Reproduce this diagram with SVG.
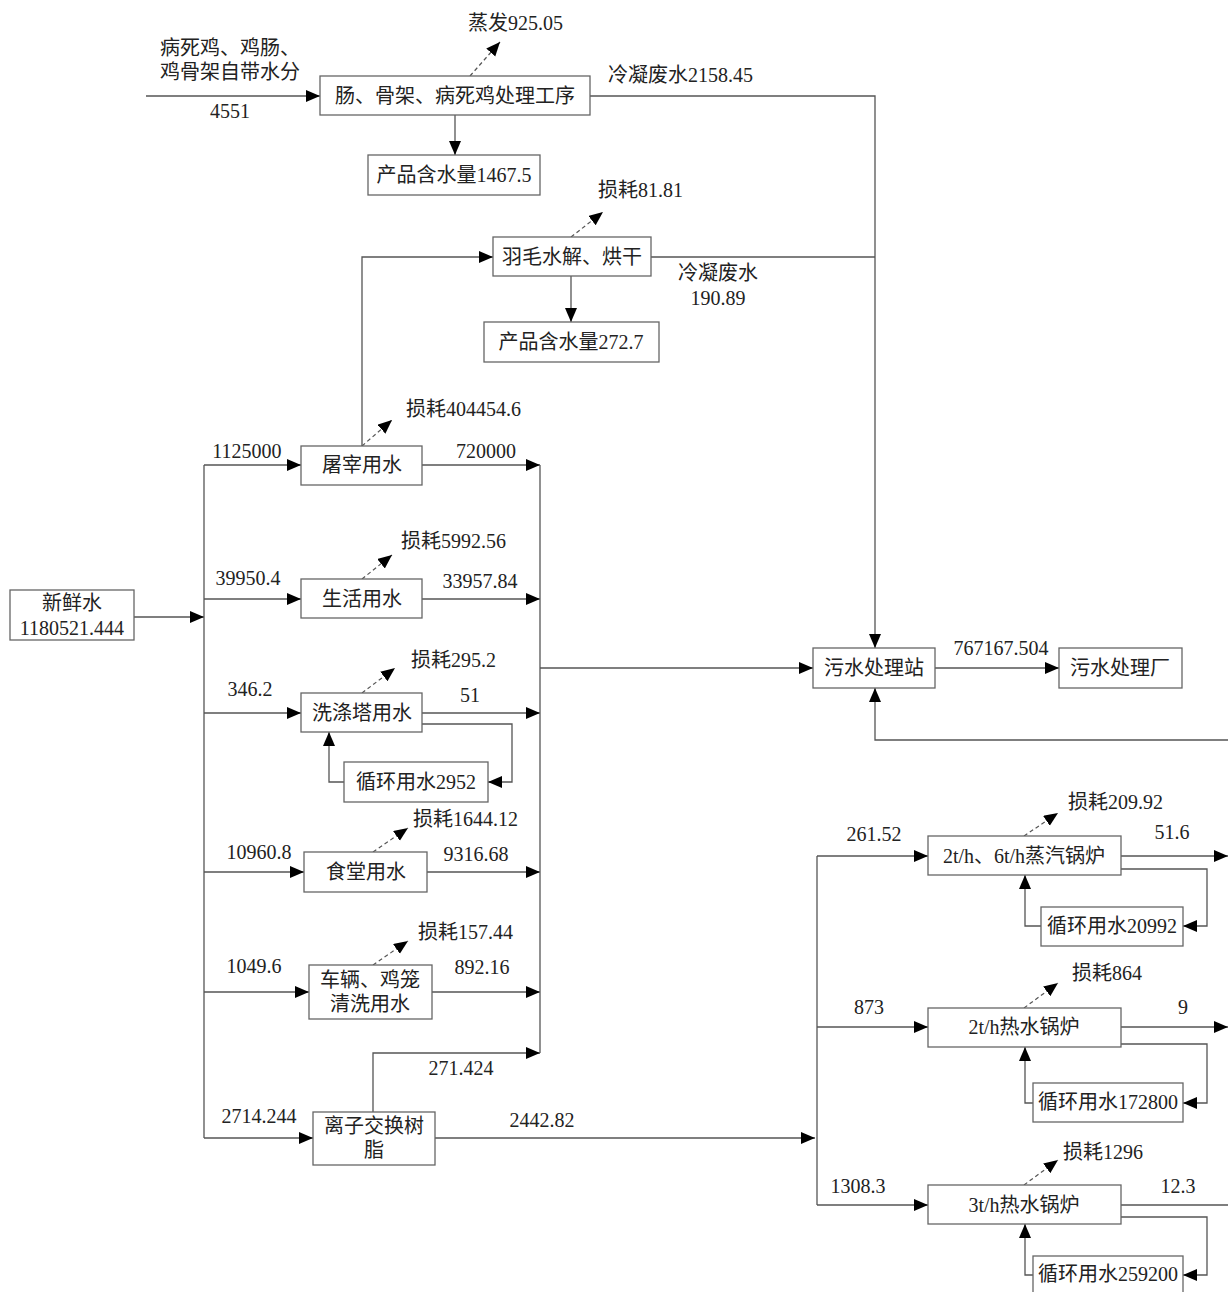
<svg xmlns="http://www.w3.org/2000/svg" width="1228" height="1292" viewBox="0 0 1228 1292">
<defs>
<marker id="ah" markerUnits="userSpaceOnUse" markerWidth="16" markerHeight="14" refX="14" refY="6" orient="auto">
<path d="M0,0 L14,6 L0,12 z" fill="#000"/>
</marker>
<style>
.b{fill:#fff;stroke:#666;stroke-width:1.3}
.l{fill:none;stroke:#555;stroke-width:1.3}
.a{marker-end:url(#ah)}
.d{fill:none;stroke:#555;stroke-width:1.2;stroke-dasharray:4,3;marker-end:url(#ah)}
text{font-family:"Liberation Serif","Noto Sans CJK SC",serif;font-size:20px;fill:#222}
.c{text-anchor:middle}
</style>
</defs>
<rect width="1228" height="1292" fill="#fff"/>
<g id="connectors">
<path class="l a" d="M146,96 H320"/>
<path class="l a" d="M590,96 H875 V648"/>
<path class="d" d="M470,76 L500,42"/>
<path class="l a" d="M455,115 V155"/>
<path class="l a" d="M362,446 V257 H493"/>
<path class="l" d="M651,257 H875"/>
<path class="d" d="M571,237 L603,212"/>
<path class="l a" d="M571,276 V322"/>
<path class="l a" d="M134,617 H204"/>
<path class="l" d="M204,465 V1138"/>
<path class="l a" d="M204,465 H301"/>
<path class="l a" d="M204,599 H301"/>
<path class="l a" d="M204,713 H301"/>
<path class="l a" d="M204,872 H304"/>
<path class="l a" d="M204,992 H309"/>
<path class="l a" d="M204,1138 H313"/>
<path class="l a" d="M422,465 H540"/>
<path class="l a" d="M422,599 H540"/>
<path class="l a" d="M422,713 H540"/>
<path class="l a" d="M427,872 H540"/>
<path class="l a" d="M432,992 H540"/>
<path class="l a" d="M373,1112 V1053 H540"/>
<path class="l" d="M540,465 V1053"/>
<path class="l a" d="M540,668 H813"/>
<path class="d" d="M362,446 L392,420"/>
<path class="d" d="M362,579 L392,555"/>
<path class="d" d="M362,693 L395,668"/>
<path class="d" d="M373,852 L408,828"/>
<path class="d" d="M373,965 L408,941"/>
<path class="l a" d="M422,724 H512 V782 H488"/>
<path class="l a" d="M344,782 H329 V732"/>
<path class="l a" d="M435,1138 H815"/>
<path class="l a" d="M935,668 H1059"/>
<path class="l a" d="M1228,740 H875 V688"/>
<path class="l" d="M817,856 V1205"/>
<path class="l a" d="M817,856 H928"/>
<path class="l a" d="M817,1027 H928"/>
<path class="l a" d="M817,1205 H928"/>
<path class="l a" d="M1121,856 H1228"/>
<path class="l a" d="M1121,1027 H1228"/>
<path class="l" d="M1121,1205 H1228"/>
<path class="l a" d="M1121,869 H1207 V926 H1183"/>
<path class="l a" d="M1041,926 H1025 V875"/>
<path class="l a" d="M1121,1044 H1207 V1103 H1183"/>
<path class="l a" d="M1033,1103 H1025 V1047"/>
<path class="l a" d="M1121,1217 H1207 V1275 H1183"/>
<path class="l a" d="M1033,1275 H1025 V1224"/>
<path class="d" d="M1024,836 L1058,813"/>
<path class="d" d="M1024,1008 L1058,983"/>
<path class="d" d="M1024,1185 L1058,1160"/>
</g>
<g id="labels">
<text x="160" y="55">病死鸡、鸡肠、</text>
<text x="160" y="79">鸡骨架自带水分</text>
<text class="c" x="230" y="118">4551</text>
<text x="468" y="30">蒸发925.05</text>
<text x="608" y="82">冷凝废水2158.45</text>
<text x="598" y="197">损耗81.81</text>
<text class="c" x="718" y="280">冷凝废水</text>
<text class="c" x="718" y="305">190.89</text>
<text class="c" x="247" y="458">1125000</text>
<text class="c" x="486" y="458">720000</text>
<text x="406" y="416">损耗404454.6</text>
<text class="c" x="248" y="585">39950.4</text>
<text class="c" x="480" y="588">33957.84</text>
<text x="401" y="548">损耗5992.56</text>
<text class="c" x="250" y="696">346.2</text>
<text class="c" x="470" y="702">51</text>
<text x="411" y="667">损耗295.2</text>
<text class="c" x="259" y="859">10960.8</text>
<text class="c" x="476" y="861">9316.68</text>
<text x="413" y="826">损耗1644.12</text>
<text class="c" x="254" y="973">1049.6</text>
<text class="c" x="482" y="974">892.16</text>
<text x="418" y="939">损耗157.44</text>
<text class="c" x="461" y="1075">271.424</text>
<text class="c" x="259" y="1123">2714.244</text>
<text class="c" x="542" y="1127">2442.82</text>
<text class="c" x="1001" y="655">767167.504</text>
<text class="c" x="874" y="841">261.52</text>
<text class="c" x="1172" y="839">51.6</text>
<text x="1068" y="809">损耗209.92</text>
<text class="c" x="869" y="1014">873</text>
<text class="c" x="1183" y="1014">9</text>
<text x="1072" y="980">损耗864</text>
<text class="c" x="858" y="1193">1308.3</text>
<text class="c" x="1178" y="1193">12.3</text>
<text x="1063" y="1159">损耗1296</text>
</g>
<g id="n-process"><rect class="b" x="320" y="76" width="270" height="39"/><text class="c" x="455" y="103">肠、骨架、病死鸡处理工序</text></g>
<g id="n-product1"><rect class="b" x="368" y="155" width="172" height="40"/><text class="c" x="454" y="182">产品含水量1467.5</text></g>
<g id="n-feather"><rect class="b" x="493" y="237" width="158" height="39"/><text class="c" x="572" y="264">羽毛水解、烘干</text></g>
<g id="n-product2"><rect class="b" x="484" y="322" width="175" height="40"/><text class="c" x="571" y="349">产品含水量272.7</text></g>
<g id="n-fresh"><rect class="b" x="10" y="590" width="124" height="50"/><text class="c" x="72" y="610">新鲜水</text><text class="c" x="72" y="635">1180521.444</text></g>
<g id="n-slaughter"><rect class="b" x="301" y="446" width="121" height="39"/><text class="c" x="362" y="472">屠宰用水</text></g>
<g id="n-living"><rect class="b" x="301" y="579" width="121" height="39"/><text class="c" x="362" y="606">生活用水</text></g>
<g id="n-wash"><rect class="b" x="301" y="693" width="121" height="39"/><text class="c" x="362" y="720">洗涤塔用水</text></g>
<g id="n-wash-recycle"><rect class="b" x="344" y="762" width="144" height="40"/><text class="c" x="416" y="789">循环用水2952</text></g>
<g id="n-canteen"><rect class="b" x="304" y="852" width="123" height="40"/><text class="c" x="366" y="879">食堂用水</text></g>
<g id="n-vehicle"><rect class="b" x="309" y="965" width="123" height="54"/><text class="c" x="370" y="987">车辆、鸡笼</text><text class="c" x="370" y="1011">清洗用水</text></g>
<g id="n-ion"><rect class="b" x="313" y="1112" width="122" height="53"/><text class="c" x="374" y="1133">离子交换树</text><text class="c" x="374" y="1157">脂</text></g>
<g id="n-station"><rect class="b" x="813" y="648" width="122" height="40"/><text class="c" x="874" y="675">污水处理站</text></g>
<g id="n-plant"><rect class="b" x="1059" y="648" width="123" height="40"/><text class="c" x="1120" y="675">污水处理厂</text></g>
<g id="n-boiler1"><rect class="b" x="928" y="836" width="193" height="39"/><text class="c" x="1024" y="863">2t/h、6t/h蒸汽锅炉</text></g>
<g id="n-rec1"><rect class="b" x="1041" y="907" width="142" height="39"/><text class="c" x="1112" y="933">循环用水20992</text></g>
<g id="n-boiler2"><rect class="b" x="928" y="1008" width="193" height="39"/><text class="c" x="1024" y="1034">2t/h热水锅炉</text></g>
<g id="n-rec2"><rect class="b" x="1033" y="1083" width="150" height="39"/><text class="c" x="1108" y="1109">循环用水172800</text></g>
<g id="n-boiler3"><rect class="b" x="928" y="1185" width="193" height="39"/><text class="c" x="1024" y="1212">3t/h热水锅炉</text></g>
<g id="n-rec3"><rect class="b" x="1033" y="1256" width="150" height="40"/><text class="c" x="1108" y="1281">循环用水259200</text></g>
</svg>
